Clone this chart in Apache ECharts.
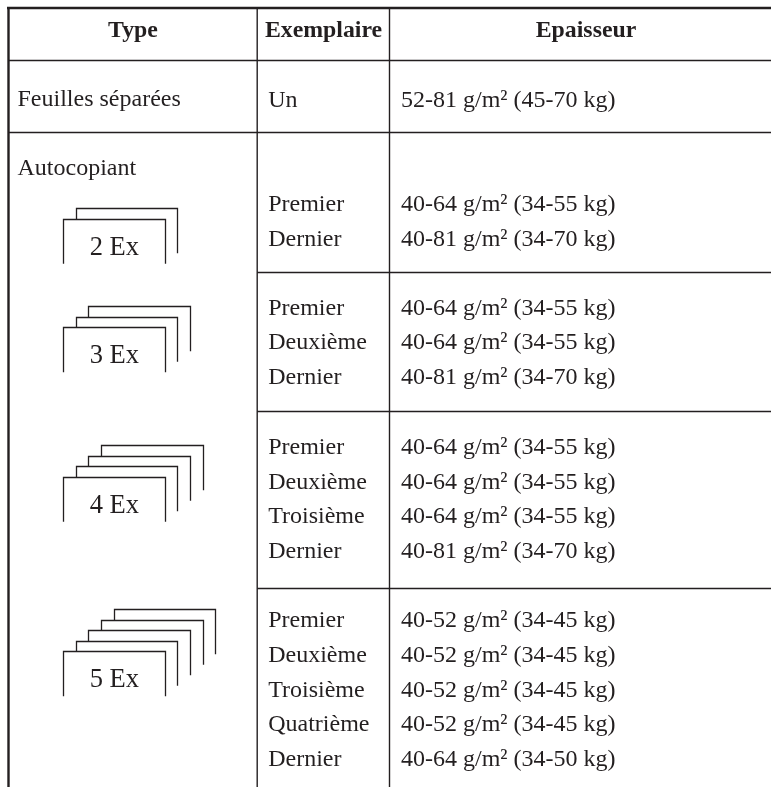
<!DOCTYPE html>
<html>
<head>
<meta charset="utf-8">
<title>Types de papier</title>
<style>
  html, body { margin: 0; padding: 0; background: #fff; overflow: hidden; }
  #chart { width: 771px; height: 787px; }
</style>
</head>
<body>
<div id="chart"></div>
<script src="https://cdn.jsdelivr.net/npm/echarts@6/dist/echarts.min.js"></script>
<script>
// table content
const headers = ['Type', 'Exemplaire', 'Epaisseur']
const singleType = 'Feuilles séparées'
const singleCopy = 'Un'
const singleWeight = '52-81 g/m² (45-70 kg)'
const carbonlessType = 'Autocopiant'

const sheetCounts = [2, 3, 4, 5]
const copyNames = [
  ['Premier', 'Dernier'],
  ['Premier', 'Deuxième', 'Dernier'],
  ['Premier', 'Deuxième', 'Troisième', 'Dernier'],
  ['Premier', 'Deuxième', 'Troisième', 'Quatrième', 'Dernier']
]
const copyWeights = [
  ['40-64 g/m² (34-55 kg)', '40-81 g/m² (34-70 kg)'],
  ['40-64 g/m² (34-55 kg)', '40-64 g/m² (34-55 kg)', '40-81 g/m² (34-70 kg)'],
  ['40-64 g/m² (34-55 kg)', '40-64 g/m² (34-55 kg)', '40-64 g/m² (34-55 kg)', '40-81 g/m² (34-70 kg)'],
  ['40-52 g/m² (34-45 kg)', '40-52 g/m² (34-45 kg)', '40-52 g/m² (34-45 kg)', '40-52 g/m² (34-45 kg)', '40-64 g/m² (34-50 kg)']
]

// layout, in page pixels
const page = { w: 771, h: 787 }
const col = { left: 8.5, type: 257.2, copy: 389.5, textType: 17.5, textCopy: 268.2, textWeight: 401, headType: 133, headCopy: 323.5, headWeight: 586 }
const line = { top: 8, head: 60.5, single: 132.5, groups: [272.5, 411.5, 588.5] }
const baseline = { head: 37.5, single: 106.5, singleRight: 107.5, carbonless: 176, groups: [212, 315.3, 454.8, 628] }
const rowStep = 34.7
const sheet = { left: 63.5, w: 101.7, h: 44.8, dx: 12.67, dy: 10.5, tops: [219, 327.5, 477, 651.5], labelDown: 35.8 }
const textLift = 7
const bodySize = 24
const headSize = 23.8
const labelSize = 26.5
const ink = '#231f20'
const font = '"Liberation Serif", "Times New Roman", serif'

const cells = []
function addCell (text, x, y, align, size, bold) {
  cells.push({ value: [x, y - textLift], text: text, align: align, size: size, bold: bold })
}
addCell(headers[0], col.headType, baseline.head, 'center', headSize, true)
addCell(headers[1], col.headCopy, baseline.head, 'center', headSize, true)
addCell(headers[2], col.headWeight, baseline.head, 'center', headSize, true)
addCell(singleType, col.textType, baseline.single, 'left', bodySize)
addCell(singleCopy, col.textCopy, baseline.singleRight, 'left', bodySize)
addCell(singleWeight, col.textWeight, baseline.singleRight, 'left', bodySize)
addCell(carbonlessType, col.textType, baseline.carbonless, 'left', bodySize)
copyNames.forEach(function (names, g) {
  names.forEach(function (name, i) {
    const y = baseline.groups[g] + i * rowStep
    addCell(name, col.textCopy, y, 'left', bodySize)
    addCell(copyWeights[g][i], col.textWeight, y, 'left', bodySize)
  })
  addCell(sheetCounts[g] + ' Ex', sheet.left + sheet.w / 2, sheet.tops[g] + sheet.labelDown, 'center', labelSize)
})

const rules = [
  { value: [col.left - 1.5, line.top, page.w, line.top], width: 2.4 },
  { value: [col.left, line.top, col.left, page.h], width: 2.4 },
  { value: [col.type, line.top, col.type, page.h], width: 1.4 },
  { value: [col.copy, line.top, col.copy, page.h], width: 1.4 },
  { value: [col.left, line.head, page.w, line.head], width: 1.4 },
  { value: [col.left, line.single, page.w, line.single], width: 1.4 }
]
line.groups.forEach(function (y) {
  rules.push({ value: [col.type, y, page.w, y], width: 1.4 })
})

// one stacked-sheet outline per copy, back sheets only show their top edge and sides
const sheetOutlines = []
sheetCounts.forEach(function (count, g) {
  for (let i = count - 1; i >= 0; i--) {
    const x = sheet.left + i * sheet.dx
    const y = sheet.tops[g] - i * sheet.dy
    const leftDown = i === 0 ? sheet.h : sheet.dy
    sheetOutlines.push({ value: [x, y, sheet.w, sheet.h, leftDown] })
  }
})

// keep thin strokes on the pixel grid
function snap (v) {
  return Math.floor(v) + 0.5
}

const chart = echarts.init(document.getElementById('chart'), null, { renderer: 'canvas' })
chart.setOption({
  animation: false,
  backgroundColor: '#fff',
  grid: { left: 0, right: 0, top: 0, bottom: 0 },
  xAxis: { type: 'value', min: 0, max: page.w, show: false },
  yAxis: { type: 'value', min: 0, max: page.h, inverse: true, show: false },
  series: [
    {
      type: 'custom',
      name: 'rules',
      silent: true,
      data: rules,
      clip: false,
      renderItem: function (params, api) {
        const a = api.coord([api.value(0), api.value(1)])
        const b = api.coord([api.value(2), api.value(3)])
        return {
          type: 'line',
          shape: { x1: a[0], y1: a[1], x2: b[0], y2: b[1] },
          style: { stroke: ink, lineWidth: rules[params.dataIndex].width }
        }
      }
    },
    {
      type: 'custom',
      name: 'sheets',
      silent: true,
      data: sheetOutlines,
      renderItem: function (params, api) {
        const p = api.coord([api.value(0), api.value(1)])
        const q = api.coord([api.value(0) + api.value(2), api.value(1) + api.value(3)])
        const leftEnd = api.coord([api.value(0), api.value(1) + api.value(4)])
        const x1 = snap(p[0])
        const x2 = snap(q[0])
        const y1 = snap(p[1])
        return {
          type: 'polyline',
          shape: { points: [[x1, leftEnd[1]], [x1, y1], [x2, y1], [x2, q[1]]] },
          style: { stroke: ink, fill: null, lineWidth: 1.3 }
        }
      }
    },
    {
      type: 'custom',
      name: 'cells',
      silent: true,
      data: cells,
      renderItem: function (params, api) {
        const cell = cells[params.dataIndex]
        const p = api.coord([api.value(0), api.value(1)])
        return {
          type: 'text',
          x: p[0],
          y: p[1],
          style: {
            text: cell.text,
            fill: ink,
            align: cell.align,
            verticalAlign: 'middle',
            font: (cell.bold ? 'bold ' : '') + cell.size + 'px ' + font
          }
        }
      }
    }
  ]
})
window.addEventListener('resize', chart.resize)
</script>
</body>
</html>
